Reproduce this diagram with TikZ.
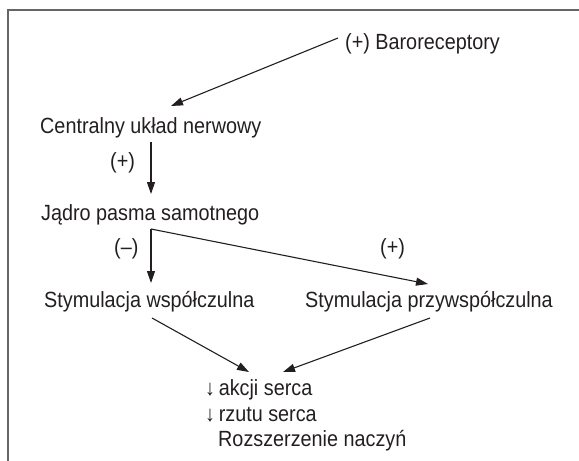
\documentclass[tikz,border=0pt]{standalone}
\usepackage{fontspec}
\setmainfont{Liberation Sans}[FakeStretch=0.9]
\usetikzlibrary{arrows.meta}
\definecolor{txt}{HTML}{231F20}
\definecolor{framec}{HTML}{666666}
\tikzset{
  lbl/.style={anchor=base west, inner sep=0pt, text=txt, font=\fontsize{22}{26}\selectfont},
  arr/.style={line width=1.1pt, draw=txt, -{Triangle[length=12pt,width=8pt]}},
  frameline/.style={line width=2pt, draw=framec}
}
\begin{document}
\begin{tikzpicture}[x=1pt,y=-1pt]
\useasboundingbox (0,0) rectangle (579,461);
\draw[frameline] (8,462) -- (8,10) -- (580,10);

\node[lbl] (baro)  at (345,49)  {(+) Baroreceptory};
\node[lbl] (cns)   at (40,133)  {Centralny układ nerwowy};
\node[lbl] (p1)    at (110,168) {(+)};
\node[lbl] (jadro) at (41,220)  {Jądro pasma samotnego};
\node[lbl] (m1)    at (114,254) {(–)};
\node[lbl] (p2)    at (380,254) {(+)};
\node[lbl] (symp)  at (44,307)  {Stymulacja współczulna};
\node[lbl] (para)  at (305,307) {Stymulacja przywspółczulna};
\node[lbl] (e1)    at (205,395) {↓\,akcji serca};
\node[lbl] (e2)    at (205,421) {↓\,rzutu serca};
\node[lbl] (e3)    at (218,446) {Rozszerzenie naczyń};

\coordinate (bs) at (338,38);
\coordinate (ct) at (171,106);
\coordinate (cs) at (151,142);
\coordinate (jt) at (151,194);
\coordinate (br) at (151,229);
\coordinate (st) at (151,283);
\coordinate (pt) at (428,284);
\coordinate (ss) at (152,318);
\coordinate (ps) at (430,318);
\coordinate (et1) at (249,372);
\coordinate (et2) at (283,372);

\draw[arr] (bs) -- (ct);
\draw[arr] (cs) -- (jt);
\draw[arr] (br) -- (st);
\draw[arr] (br) -- (pt);
\draw[arr] (ss) -- (et1);
\draw[arr] (ps) -- (et2);
\end{tikzpicture}
\end{document}
